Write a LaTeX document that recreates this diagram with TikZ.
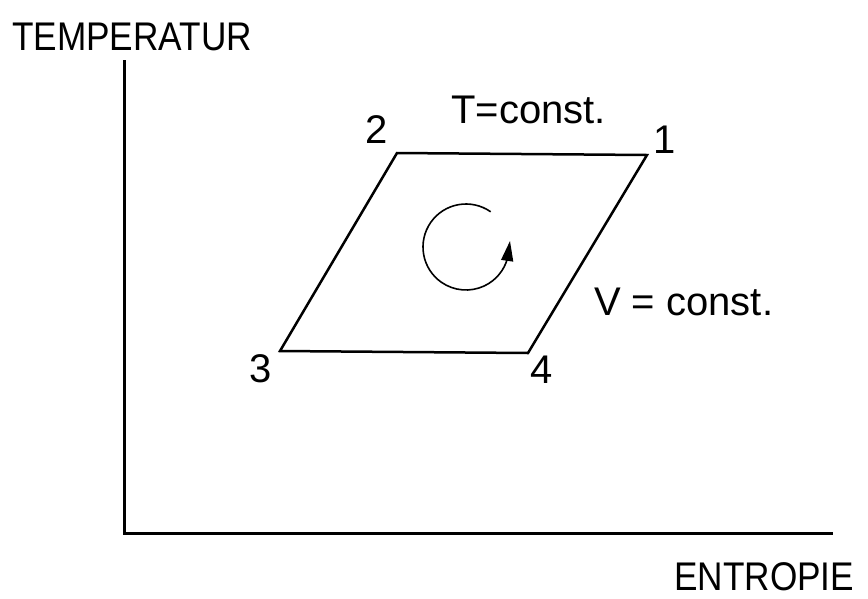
\documentclass[tikz,border=0pt]{standalone}
\usepackage{fontspec}
\setmainfont{Liberation Sans}
\newfontfamily\narrowfont{Liberation Sans}[FakeStretch=0.88]
\usetikzlibrary{arrows.meta}
\begin{document}
\begin{tikzpicture}[x=1pt,y=-1pt,
  lbl/.style={inner sep=0pt,anchor=base west,font=\fontsize{40}{48}\selectfont},
  axlbl/.style={lbl,font=\fontsize{40}{48}\selectfont\narrowfont},
  axis/.style={line width=3pt},
  cyc/.style={line width=2.5pt,line join=miter},
  rot/.style={line width=1.6pt},
  rottip/.style={line width=1.6pt,-{Triangle[length=20pt,width=12pt]}}]
\useasboundingbox (0,0) rectangle (868,598);
% axes
\coordinate (o) at (124,533);
\coordinate (ytop) at (124,60);
\coordinate (xend) at (833,533);
\draw[axis] (ytop) -- (o) -- (xend);
\node[axlbl] (tl) at (12,50) {TEMPERATUR};
\node[axlbl] (sl) at (674,590) {ENTROPIE};
% cycle
\coordinate (p1) at (647,155);
\coordinate (p2) at (397,153);
\coordinate (p3) at (280,351);
\coordinate (p4) at (528,353);
\draw[cyc] (p1) -- (p2) -- (p3) -- (p4) -- cycle;
\node[lbl] (n1) at (653,153) {1};
\node[lbl] (n2) at (365,143) {2};
\node[lbl] (n3) at (249,382) {3};
\node[lbl] (n4) at (530,383) {4};
\node[lbl] (tc) at (451,123) {T=const.};
\node[lbl] (vc) at (594,315) {V = const.};
% rotation arrow
\coordinate (c) at (466,247);
\draw[rot] (c) ++(-55:43) arc[start angle=-55,end angle=-345,radius=43] coordinate (a1);
\coordinate (a2) at (510,241);
\draw[rottip] (a1) -- (a2);
\end{tikzpicture}
\end{document}
